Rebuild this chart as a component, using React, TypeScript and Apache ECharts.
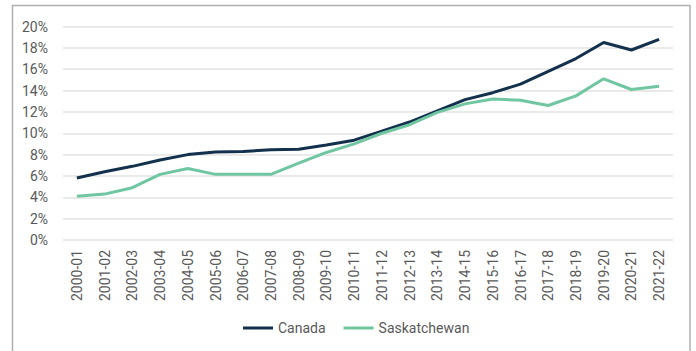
import React, { useEffect, useRef } from "react";
import * as echarts from "echarts";

const categories = [
  "2000-01", "2001-02", "2002-03", "2003-04", "2004-05", "2005-06", "2006-07", "2007-08",
  "2008-09", "2009-10", "2010-11", "2011-12", "2012-13", "2013-14", "2014-15", "2015-16",
  "2016-17", "2017-18", "2018-19", "2019-20", "2020-21", "2021-22",
];
const canada = [5.8, 6.4, 6.9, 7.5, 8.0, 8.25, 8.3, 8.45, 8.5, 8.9, 9.35, 10.2, 11.05, 12.1, 13.15, 13.8, 14.6, 15.8, 17.0, 18.5, 17.8, 18.8];
const saskatchewan = [4.1, 4.3, 4.9, 6.15, 6.7, 6.15, 6.15, 6.15, 7.2, 8.2, 9.0, 10.0, 10.8, 11.95, 12.75, 13.2, 13.1, 12.6, 13.5, 15.1, 14.1, 14.4];
const yTicks = [0, 2, 4, 6, 8, 10, 12, 14, 16, 18, 20];

const TEXT = "#595959";
const FONT = "Roboto";

export default function App() {
  const ref = useRef<HTMLDivElement>(null);
  useEffect(() => {
    const chart = echarts.init(ref.current!, null, { renderer: "svg" });
    chart.setOption({
      animation: false,
      graphic: [
        {
          type: "rect",
          shape: { x: 12.5, y: 5.5, width: 677.5, height: 400 },
          style: { fill: "none", stroke: "#b0b0b0", lineWidth: 1.5 },
          silent: true,
        },
      ],
      grid: { left: 63, right: 23, top: 26.5, bottom: 111, containLabel: false },
      legend: {
        data: ["Canada", "Saskatchewan"],
        top: 316,
        left: 238,
        icon: "rect",
        itemWidth: 30,
        itemHeight: 3,
        itemGap: 18,
        textStyle: { color: TEXT, fontFamily: FONT, fontSize: 14 },
      },
      xAxis: {
        type: "category",
        data: categories,
        boundaryGap: true,
        axisLine: { show: false },
        axisTick: { show: false },
        axisLabel: {
          rotate: 90,
          interval: 0,
          margin: 10,
          color: TEXT,
          fontFamily: FONT,
          fontSize: 14,
        },
      },
      yAxis: {
        type: "value",
        min: yTicks[0],
        max: yTicks[yTicks.length - 1],
        interval: 2,
        axisLine: { show: false },
        axisTick: { show: false },
        splitLine: { lineStyle: { color: "#e3e3e3", width: 1.5 } },
        axisLabel: {
          margin: 15,
          color: TEXT,
          fontFamily: FONT,
          fontSize: 14,
          formatter: (v: number) => `${v}%`,
        },
      },
      series: [
        {
          name: "Canada",
          type: "line",
          data: canada,
          symbol: "none",
          lineStyle: { color: "#13304d", width: 3 },
          itemStyle: { color: "#13304d" },
        },
        {
          name: "Saskatchewan",
          type: "line",
          data: saskatchewan,
          symbol: "none",
          lineStyle: { color: "#6fc6a0", width: 3 },
          itemStyle: { color: "#6fc6a0" },
        },
      ],
    });
    return () => chart.dispose();
  }, []);
  return <div ref={ref} style={{ width: 696, height: 351, position: "absolute", left: 0, top: 0 }} />;
}
